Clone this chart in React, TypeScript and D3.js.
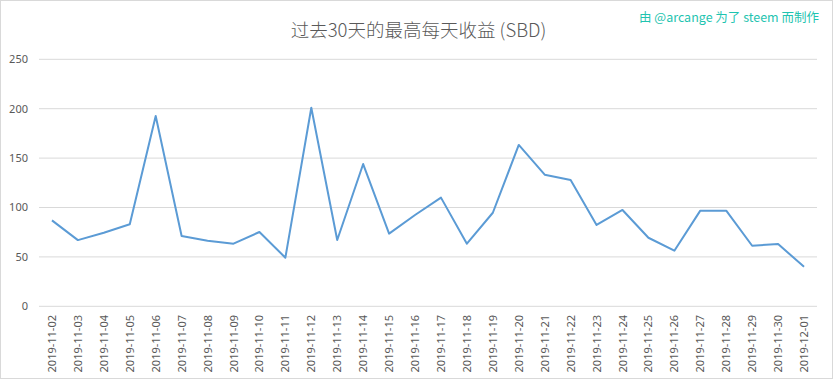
import React from "react";
import * as d3 from "d3";

const dates = [
  "2019-11-02","2019-11-03","2019-11-04","2019-11-05","2019-11-06","2019-11-07",
  "2019-11-08","2019-11-09","2019-11-10","2019-11-11","2019-11-12","2019-11-13",
  "2019-11-14","2019-11-15","2019-11-16","2019-11-17","2019-11-18","2019-11-19",
  "2019-11-20","2019-11-21","2019-11-22","2019-11-23","2019-11-24","2019-11-25",
  "2019-11-26","2019-11-27","2019-11-28","2019-11-29","2019-11-30","2019-12-01",
];
const values = [
  87, 67, 74.5, 83, 192.6, 71.2, 66.4, 63.4, 75.2, 49.2, 201, 67.1,
  144, 73.5, 92.4, 110, 63.4, 94.7, 163.3, 133.2, 127.8, 82.3, 97.5, 69.4,
  56.3, 96.8, 96.8, 61.3, 63, 40,
];
const yTicks = [0, 50, 100, 150, 200, 250];
const title = "过去30天的最高每天收益 (SBD)";
const watermark = "由 @arcange 为了 steem 而制作";

export default function App() {
  const W = 833, H = 379;
  const left = 39, right = 817, top = 59.3, bottom = 306.3;
  const x = d3.scaleBand<string>().domain(dates).range([left, right]);
  const y = d3.scaleLinear().domain([0, 250]).range([bottom, top]);
  const line = d3
    .line<number>()
    .x((_, i) => (x(dates[i]) as number) + x.bandwidth() / 2)
    .y((d) => y(d));
  const font = "'Noto Sans', 'Noto Sans CJK SC', sans-serif";
  return (
    <svg
      width={W}
      height={H}
      style={{ position: "absolute", left: 0, top: 0, display: "block", background: "#fff" }}
    >
      <rect x={0.5} y={0.5} width={W - 1} height={H - 1} fill="#fff" stroke="#d9d9d9" />
      <text
        x={418.5}
        y={36.5}
        textAnchor="middle"
        fontFamily="'Noto Sans CJK SC', sans-serif"
        fontSize={18.5}
        fontWeight={300}
        fill="#595959"
      >
        {title}
      </text>
      <text
        x={729}
        y={22}
        textAnchor="middle"
        fontFamily="'Noto Sans CJK SC', 'Noto Sans', sans-serif"
        fontSize={12.5}
        fill="#1fc4b0"
      >
        {watermark}
      </text>
      {yTicks.map((t) => (
        <g key={t}>
          <line x1={left} x2={right} y1={y(t)} y2={y(t)} stroke="#d9d9d9" strokeWidth={1} />
          <text
            x={28}
            y={y(t)}
            dy="0.35em"
            textAnchor="end"
            fontFamily={font}
            fontSize={11}
            fill="#595959"
          >
            {t}
          </text>
        </g>
      ))}
      {dates.map((d) => {
        const cx = (x(d) as number) + x.bandwidth() / 2;
        return (
          <text
            key={d}
            transform={`translate(${cx + 4},315) rotate(-90)`}
            textAnchor="end"
            fontFamily={font}
            fontSize={11}
            fill="#595959"
          >
            {d}
          </text>
        );
      })}
      <path d={line(values) || ""} fill="none" stroke="#5b9bd5" strokeWidth={2} strokeLinejoin="round" />
    </svg>
  );
}
